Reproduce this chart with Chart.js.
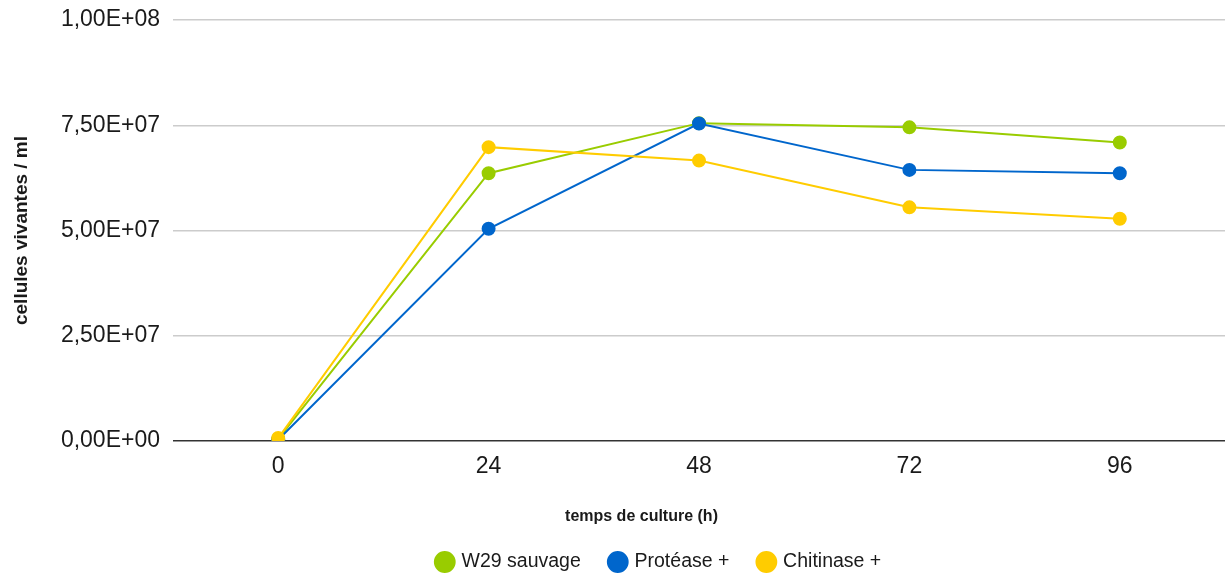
<!DOCTYPE html>
<html>
<head>
<meta charset="utf-8">
<script src="https://cdn.jsdelivr.net/npm/chart.js@4/dist/chart.umd.min.js"></script>
<style>
  html, body { margin: 0; padding: 0; background: #fff; overflow: hidden; }
  #wrap { width: 1225px; height: 575px; position: relative; }
</style>
</head>
<body>
<div id="wrap"><canvas id="growthChart" width="1225" height="575"></canvas></div>
<script>
// Chart data
const hours = ['0', '24', '48', '72', '96'];
const wildType = [0.5e6, 63.6e6, 75.5e6, 74.5e6, 70.9e6];
const protease = [0.3e6, 50.4e6, 75.4e6, 64.4e6, 63.6e6];
const chitinase = [0.7e6, 69.8e6, 66.6e6, 55.5e6, 52.8e6];
const yTicks = [0, 2.5e7, 5e7, 7.5e7, 1e8];

const GREEN = '#99cc00';
const BLUE = '#0066cc';
const YELLOW = '#ffcc00';
const TEXT = '#1a1a1a';
const FONT = "'Liberation Sans', Arial, sans-serif";
const LEGEND_HEIGHT = 52.75;

// 1,00E+08 style labels
function sciLabel(v) {
    if (v === 0) return '0,00E+00';
    const exp = Math.floor(Math.log10(v));
    const mant = (v / Math.pow(10, exp)).toFixed(2).replace('.', ',');
    return `${mant}E+${String(exp).padStart(2, '0')}`;
}

function series(label, data, color, order) {
    return {
        label: label,
        data: data,
        borderColor: color,
        backgroundColor: color,
        pointBackgroundColor: color,
        pointBorderColor: color,
        borderWidth: 2,
        pointRadius: 6,
        pointHoverRadius: 6,
        tension: 0,
        order: order
    };
}

// legend padding is wide for item spacing, keep its box short;
// legend and x title sit a bit right of the canvas centre in the original
const bottomBoxFix = {
    id: 'bottomBoxFix',
    beforeInit(chart) {
        const fit = chart.legend.fit;
        chart.legend.fit = function() {
            fit.call(this);
            this.height = LEGEND_HEIGHT;
        };
    },
    afterLayout(chart) {
        chart.legend.left += 44;
        chart.legend.right += 44;
        if (chart.titleBlock) {
            chart.titleBlock.left += 26;
            chart.titleBlock.right += 26;
        }
    }
};

new Chart(document.getElementById('growthChart'), {
    type: 'line',
    data: {
        labels: hours,
        datasets: [
            series('W29 sauvage', wildType, GREEN, 3),
            series('Protéase +', protease, BLUE, 2),
            series('Chitinase +', chitinase, YELLOW, 1)
        ]
    },
    plugins: [bottomBoxFix],
    options: {
        responsive: false,
        animation: false,
        layout: { autoPadding: false, padding: { top: 0, right: 0, bottom: 0, left: 6 } },
        plugins: {
            title: {
                display: true,
                position: 'bottom',
                weight: 500,
                text: 'temps de culture (h)',
                color: TEXT,
                padding: { top: 22.8, bottom: -4.35 },
                font: { family: FONT, size: 16, weight: 'bold' }
            },
            legend: {
                position: 'bottom',
                labels: {
                    usePointStyle: true,
                    pointStyle: 'circle',
                    boxHeight: 14,
                    boxWidth: 14,
                    padding: 30,
                    color: TEXT,
                    font: { family: FONT, size: 19.5 },
                    sort: (a, b) => a.datasetIndex - b.datasetIndex
                }
            },
            tooltip: { enabled: false }
        },
        scales: {
            x: {
                offset: true,
                grid: { display: false },
                border: { display: false },
                afterFit: s => { s.paddingLeft = 0; s.paddingRight = 0; },
                ticks: {
                    color: TEXT,
                    padding: 4,
                    font: { family: FONT, size: 23 }
                }
            },
            y: {
                min: 0,
                max: 1e8,
                afterBuildTicks: axis => {
                    axis.ticks = yTicks.map(v => ({ value: v }));
                },
                afterFit: axis => {
                    axis.width = 167;
                    axis.paddingTop = 20;
                    axis.paddingBottom = 0;
                },
                grid: {
                    color: ctx => ctx.tick && ctx.tick.value === 0 ? '#333' : '#cccccc',
                    lineWidth: 1.5,
                    drawTicks: false
                },
                border: { display: false },
                ticks: {
                    color: TEXT,
                    padding: 13,
                    font: { family: FONT, size: 23 },
                    callback: v => sciLabel(v)
                },
                title: {
                    display: true,
                    text: 'cellules vivantes / ml',
                    color: TEXT,
                    padding: { top: 4, bottom: 10 },
                    font: { family: FONT, size: 19, weight: 'bold' }
                }
            }
        }
    }
});
</script>
</body>
</html>
